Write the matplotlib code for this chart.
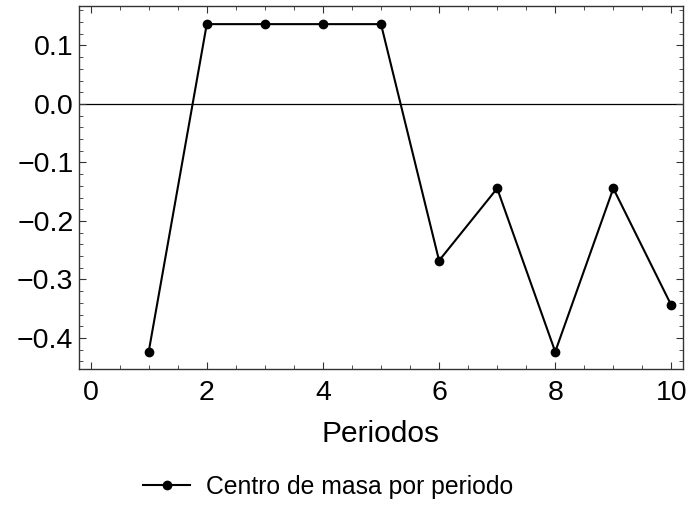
import numpy as np
import matplotlib.pyplot as plt
from matplotlib.ticker import MultipleLocator

plt.rcParams['font.family'] = ['Liberation Sans', 'DejaVu Sans']

periods = [1, 2, 3, 4, 5, 6, 7, 8, 9, 10]
center_of_mass = [-0.4235, 0.1365, 0.1365, 0.1365, 0.1365, -0.2677, -0.1443, -0.4235, -0.1443, -0.3444]
series_label = 'Centro de masa por periodo'
x_label = 'Periodos'

fig = plt.figure(figsize=(6.93, 5.05), dpi=100)
ax = fig.add_axes([79 / 693, 1 - 369 / 505, 604 / 693, 363 / 505])

ax.axhline(0, color='black', linewidth=0.9, zorder=1)
ax.plot(periods, center_of_mass, color='black', linewidth=1.5, marker='o',
        markersize=6, label=series_label, zorder=3)

ax.set_xlim(-0.2, 10.2)
ax.set_ylim(-0.453, 0.1675)

ax.xaxis.set_major_locator(MultipleLocator(2))
ax.xaxis.set_minor_locator(MultipleLocator(0.5))
ax.yaxis.set_major_locator(MultipleLocator(0.1))
ax.yaxis.set_minor_locator(MultipleLocator(0.02))
ax.yaxis.set_major_formatter(plt.FuncFormatter(lambda v, p: f'{v:.1f}'.replace('-', '\u2212')))

ax.tick_params(which='both', direction='in', top=True, right=True, labelsize=20.5, color='#333333')
ax.tick_params(which='major', length=5, width=0.8)
ax.tick_params(which='minor', length=3, width=0.6)
ax.tick_params(axis='x', pad=8)
ax.tick_params(axis='y', pad=4)
for spine in ax.spines.values():
    spine.set_linewidth(1.0)
    spine.set_color('#333333')

ax.set_xlabel(x_label, fontsize=21.5, labelpad=10)

fig.legend(loc='center', bbox_to_anchor=(0.474, 1 - 487 / 505), frameon=False,
           fontsize=17.8, handlelength=1.9, handletextpad=0.65)

fig.savefig('out.png', dpi=100)
